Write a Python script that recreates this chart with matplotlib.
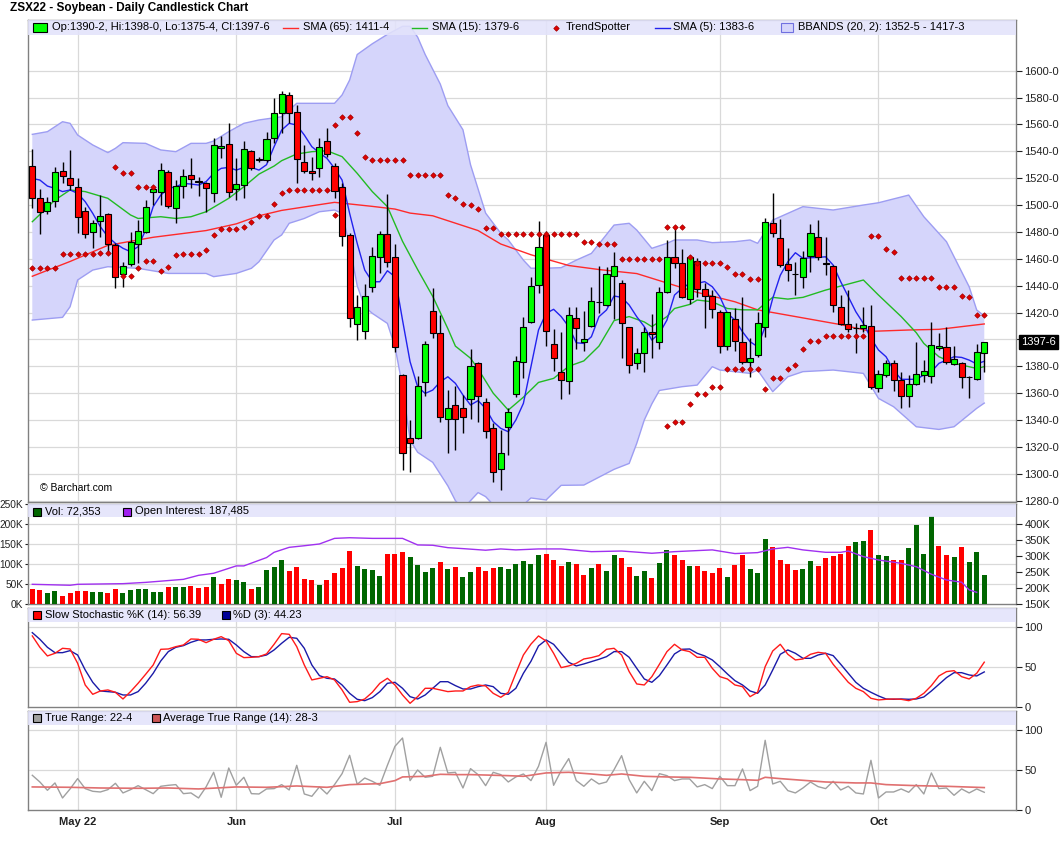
import numpy as np
import matplotlib
matplotlib.use('Agg')
from matplotlib import pyplot as plt
from matplotlib.patches import Rectangle
from matplotlib.lines import Line2D

plt.rcParams['font.family'] = ['Liberation Sans', 'DejaVu Sans']

# trading days from Apr 22 2022 (index 0) to Oct 21 2022 (index 126)
months = ['May 22', 'Jun', 'Jul', 'Aug', 'Sep', 'Oct']
month_idx = [6, 27, 48, 68, 91, 112]

# daily candles
opn = [1529.0, 1505.0, 1495.5, 1503.0, 1525.3, 1519.8, 1513.6, 1495.5, 1480.2, 1488.1,
       1493.0, 1470.2, 1448.4, 1455.8, 1470.7, 1479.7, 1509.4, 1509.4, 1524.3, 1497.5,
       1514.1, 1522.6, 1517.6, 1516.6, 1508.7, 1542.7, 1545.1, 1511.7, 1514.6, 1540.0,
       1534.5, 1533.2, 1549.6, 1568.2, 1581.9, 1569.0, 1531.8, 1525.3, 1527.3, 1547.4,
       1528.8, 1513.6, 1477.7, 1411.2, 1406.2, 1438.7, 1461.0, 1478.2, 1461.5, 1373.5,
       1326.4, 1326.4, 1368.5, 1421.1, 1404.5, 1340.7, 1351.2, 1348.7, 1355.4, 1382.2,
       1353.6, 1333.8, 1303.5, 1335.0, 1359.1, 1382.9, 1412.7, 1440.5, 1477.7, 1396.3,
       1375.5, 1369.0, 1415.7, 1398.3, 1410.0, 1428.1, 1425.6, 1447.4, 1441.7, 1409.0,
       1382.2, 1389.6, 1405.2, 1397.8, 1435.0, 1461.0, 1456.6, 1430.0, 1458.3, 1437.2,
       1432.3, 1420.1, 1395.1, 1414.9, 1398.3, 1383.4, 1388.4, 1409.5, 1486.4, 1475.2,
       1455.8, 1448.9, 1446.2, 1462.0, 1476.4, 1456.8, 1454.9, 1424.3, 1411.2, 1408.5,
       1408.7, 1410.2, 1364.1, 1373.5, 1382.2, 1369.8, 1357.9, 1366.8, 1373.5, 1372.7,
       1393.8, 1394.1, 1381.4, 1382.7, 1371.8, 1370.5, 1390.25]
high = [1541.7, 1511.9, 1506.0, 1528.0, 1532.2, 1541.0, 1519.8, 1498.8, 1488.8, 1507.4,
        1493.8, 1471.5, 1457.8, 1480.2, 1488.8, 1503.7, 1514.0, 1531.0, 1526.0, 1518.6,
        1526.5, 1534.7, 1521.1, 1517.4, 1549.6, 1551.6, 1560.8, 1534.7, 1547.6, 1541.0,
        1536.0, 1554.6, 1579.4, 1584.8, 1584.3, 1574.4, 1544.7, 1535.5, 1549.6, 1557.0,
        1531.0, 1516.1, 1478.9, 1433.0, 1441.0, 1469.0, 1480.7, 1508.0, 1471.0, 1374.2,
        1340.0, 1372.7, 1398.8, 1438.5, 1418.1, 1362.3, 1365.3, 1358.6, 1392.6, 1383.4,
        1356.1, 1337.5, 1332.6, 1348.7, 1387.6, 1416.9, 1446.7, 1488.3, 1480.9, 1407.5,
        1405.7, 1424.3, 1424.3, 1421.4, 1438.7, 1454.6, 1453.6, 1465.3, 1444.2, 1409.5,
        1393.3, 1409.5, 1418.9, 1438.7, 1474.0, 1483.9, 1467.3, 1462.8, 1460.3, 1441.7,
        1436.7, 1421.9, 1420.6, 1423.1, 1431.8, 1400.8, 1420.6, 1490.1, 1509.2, 1489.3,
        1468.2, 1457.8, 1465.8, 1485.9, 1488.8, 1475.9, 1455.3, 1433.0, 1436.7, 1411.9,
        1424.3, 1425.6, 1377.2, 1384.6, 1384.6, 1376.0, 1373.5, 1397.8, 1384.6, 1413.2,
        1404.5, 1409.5, 1395.1, 1383.4, 1372.5, 1396.5, 1398.0]
low = [1497.5, 1478.2, 1493.0, 1498.8, 1516.1, 1511.0, 1478.9, 1475.2, 1467.8, 1476.4,
       1465.3, 1438.0, 1439.2, 1455.0, 1457.0, 1479.0, 1500.0, 1500.0, 1497.5, 1486.9,
       1505.5, 1512.4, 1506.7, 1495.0, 1502.5, 1535.0, 1506.2, 1503.7, 1505.0, 1526.0,
       1532.0, 1532.0, 1546.0, 1553.3, 1560.8, 1516.1, 1523.6, 1518.6, 1520.6, 1536.0,
       1505.5, 1469.7, 1409.0, 1399.5, 1400.0, 1435.5, 1449.6, 1454.0, 1390.8, 1302.8,
       1301.5, 1325.6, 1357.9, 1400.8, 1338.8, 1315.2, 1317.7, 1330.0, 1340.5, 1338.8,
       1327.0, 1294.0, 1287.9, 1314.0, 1357.4, 1371.5, 1411.9, 1434.8, 1395.3, 1376.7,
       1355.4, 1359.1, 1392.8, 1391.3, 1409.5, 1419.4, 1424.8, 1414.9, 1385.9, 1375.2,
       1378.0, 1375.9, 1385.9, 1392.6, 1434.3, 1452.9, 1430.5, 1426.1, 1431.3, 1408.2,
       1415.7, 1389.6, 1392.1, 1391.6, 1381.7, 1372.2, 1387.0, 1402.0, 1475.9, 1453.6,
       1443.7, 1433.0, 1438.0, 1450.4, 1459.1, 1447.9, 1420.6, 1410.7, 1405.7, 1390.1,
       1405.7, 1362.8, 1360.6, 1371.8, 1361.8, 1349.2, 1349.9, 1366.0, 1368.5, 1367.3,
       1392.1, 1381.7, 1380.9, 1363.6, 1356.6, 1369.8, 1375.5]
close = [1505.0, 1494.5, 1502.5, 1524.8, 1521.6, 1514.9, 1490.8, 1478.2, 1486.4, 1491.8,
         1470.7, 1446.7, 1454.6, 1472.2, 1480.7, 1498.3, 1511.7, 1525.8, 1499.5, 1514.4,
         1521.8, 1519.1, 1517.1, 1512.4, 1544.9, 1544.2, 1509.4, 1515.4, 1541.9, 1527.3,
         1533.2, 1549.4, 1568.2, 1582.6, 1568.2, 1534.0, 1525.3, 1523.6, 1543.4, 1538.0,
         1510.4, 1476.9, 1415.7, 1423.8, 1432.5, 1462.3, 1478.2, 1457.8, 1394.6, 1315.2,
         1322.6, 1365.3, 1396.3, 1404.5, 1342.5, 1349.2, 1340.7, 1342.0, 1380.2, 1357.9,
         1331.8, 1301.0, 1315.2, 1345.7, 1383.9, 1409.5, 1440.0, 1468.5, 1406.2, 1385.9,
         1369.8, 1418.1, 1408.2, 1400.0, 1428.6, 1427.8, 1448.4, 1454.4, 1411.9, 1380.9,
         1389.6, 1405.2, 1403.7, 1435.0, 1461.0, 1456.6, 1431.3, 1461.0, 1437.5, 1432.3,
         1422.4, 1395.1, 1420.1, 1398.8, 1382.9, 1385.9, 1411.9, 1487.6, 1478.9, 1455.3,
         1451.6, 1448.6, 1460.8, 1478.9, 1461.1, 1456.3, 1425.6, 1411.4, 1407.7, 1408.7,
         1410.4, 1364.3, 1374.0, 1382.7, 1369.8, 1357.9, 1366.5, 1374.0, 1376.2, 1395.5,
         1395.0, 1383.4, 1385.1, 1371.7, 1372.0, 1390.8, 1397.75]

sma5 = [1519.8, 1518.6, 1514.1, 1512.4, 1510.0, 1511.2, 1508.7, 1502.5, 1493.8, 1483.9,
        1476.4, 1471.5, 1467.8, 1465.3, 1469.0, 1481.4, 1498.8, 1507.4, 1512.4, 1513.6,
        1516.1, 1515.6, 1514.9, 1517.4, 1523.6, 1527.3, 1528.0, 1526.0, 1528.0, 1528.0,
        1526.0, 1530.0, 1543.4, 1555.8, 1560.8, 1559.5, 1552.1, 1543.4, 1538.9, 1534.7,
        1527.3, 1518.6, 1493.8, 1471.5, 1451.6, 1442.9, 1442.9, 1451.1, 1446.7, 1414.4,
        1383.4, 1364.8, 1359.8, 1362.3, 1368.5, 1372.2, 1367.3, 1358.6, 1351.2, 1354.4,
        1348.7, 1338.8, 1333.8, 1331.3, 1340.0, 1352.4, 1379.7, 1407.0, 1419.4, 1422.4,
        1417.0, 1409.5, 1397.5, 1397.0, 1402.0, 1416.9, 1421.9, 1432.3, 1431.3, 1425.6,
        1416.9, 1409.5, 1399.5, 1404.5, 1414.4, 1433.0, 1438.0, 1441.7, 1441.7, 1443.0,
        1439.2, 1431.8, 1419.4, 1414.4, 1405.7, 1398.3, 1394.6, 1409.5, 1430.5, 1447.7,
        1457.8, 1464.5, 1460.3, 1460.8, 1461.0, 1461.5, 1455.3, 1442.9, 1431.8, 1420.6,
        1411.9, 1400.8, 1392.1, 1387.1, 1377.2, 1370.3, 1370.3, 1370.3, 1373.5, 1376.0,
        1382.2, 1384.6, 1387.1, 1386.6, 1384.6, 1381.7, 1383.75]

# smoother lines, read at sample days
sma65_day = [0, 5, 10, 16, 23, 27, 30, 33, 40, 45, 48, 50, 53, 59, 62, 66, 71, 75, 80, 84,
             88, 93, 96, 98, 102, 107, 111, 116, 120, 126]
sma65_val = [1447, 1458, 1470, 1476, 1481, 1486, 1492, 1496, 1502, 1499, 1497, 1494, 1492,
             1481, 1471, 1463, 1455, 1452, 1449, 1442, 1435, 1428, 1422, 1420, 1416, 1411,
             1406, 1407, 1407.5, 1411.5]
sma15_day = [0, 3, 5, 7, 10, 13, 14, 17, 19, 21, 23, 26, 28, 30, 32, 33, 35, 37, 39, 41, 43,
             45, 47, 49, 51, 53, 55, 56, 58, 59, 61, 63, 65, 67, 69, 71, 73, 75, 77, 79, 81,
             82, 84, 85, 87, 88, 90, 92, 94, 96, 97, 98, 100, 102, 105, 107, 110, 112, 115,
             117, 118, 120, 122, 125, 126]
sma15_val = [1487.6, 1503.7, 1511.2, 1510, 1505, 1492.6, 1490, 1491.3, 1490, 1491.3, 1495,
             1505, 1513.6, 1523, 1529, 1533, 1538, 1539.7, 1540.4, 1536, 1523.6, 1510, 1498.8,
             1473, 1452, 1432, 1408, 1395, 1386, 1378, 1360, 1347.4, 1357, 1368, 1371, 1380,
             1384, 1395, 1414, 1417, 1413, 1409.5, 1417, 1423, 1426, 1429.3, 1428, 1423, 1422,
             1422, 1426.8, 1431.3, 1430, 1431.3, 1436.7, 1439.7, 1444.2, 1433, 1417, 1405,
             1397, 1387.1, 1382.2, 1378.4, 1379.75]
bb_up_day = [0, 2, 4, 5, 6, 8, 10, 11, 12, 15, 17, 19, 21, 23, 24, 26, 28, 30, 33, 35, 40,
             41, 42, 43, 45, 47, 49, 50, 51, 52, 54, 55, 57, 58, 60, 62, 63, 65, 66, 68, 70,
             72, 74, 77, 79, 80, 82, 84, 85, 88, 90, 93, 95, 96, 98, 102, 106, 110, 112, 116,
             118, 121, 124, 125, 126]
bb_up_val = [1552.6, 1554.6, 1562, 1560.8, 1552.1, 1544.7, 1539, 1542.2, 1546.4, 1545.9,
             1541, 1539.7, 1545.9, 1545.9, 1547.6, 1554.6, 1560.8, 1563.3, 1565.7, 1575.7,
             1575.7, 1581.9, 1593, 1612, 1620, 1627, 1633, 1633, 1625, 1612, 1590, 1574, 1556,
             1530, 1494, 1479, 1474, 1459, 1453, 1453, 1453.4, 1459, 1464, 1485.1, 1486.4,
             1481.4, 1467.8, 1471.5, 1474, 1474, 1472, 1472.7, 1474, 1471.5, 1488.8, 1498.8,
             1496.3, 1500, 1501.7, 1507.4, 1491.3, 1472.7, 1439.2, 1421.9, 1417.4]
bb_lo_day = [0, 4, 5, 6, 8, 10, 14, 18, 23, 24, 27, 29, 30, 32, 33, 34, 36, 38, 40, 41, 42,
             43, 44, 45, 47, 48, 49, 50, 51, 53, 55, 56, 57, 58, 59, 60, 61, 62, 63, 64, 65,
             66, 68, 70, 73, 77, 79, 80, 81, 82, 83, 86, 88, 90, 91, 95, 96, 98, 100, 102,
             106, 110, 112, 114, 117, 120, 122, 125, 126]
bb_lo_val = [1414.4, 1416.4, 1424.3, 1444.2, 1451.6, 1454.1, 1452.9, 1449.1, 1449.1, 1446.7,
             1449.1, 1452.9, 1457.8, 1474, 1477.7, 1486.4, 1490, 1495, 1496.3, 1493.8, 1470,
             1440, 1424.3, 1419.4, 1411.9, 1394.6, 1365, 1325.1, 1316, 1308.5, 1291, 1280,
             1274, 1280, 1286, 1283, 1277, 1272, 1270, 1273, 1277, 1282, 1280.5, 1291.4,
             1291.6, 1303.3, 1307.7, 1322.6, 1340, 1352, 1362, 1364.8, 1366, 1379.7, 1377.2,
             1374.7, 1377.2, 1361.1, 1372.2, 1376, 1377.2, 1374.7, 1356.1, 1349.9, 1335, 1333,
             1335, 1348.7, 1352.6]

# TrendSpotter dots (day, price)
ts_day = list(range(0, 11)) + [11, 12, 13, 14, 15, 16] + list(range(12, 33)) + list(range(33, 40)) \
    + [40, 40] + list(range(41, 97)) + list(range(84, 111)) + list(range(111, 127))
ts_val = ([1452.9] * 4 + [1463.5] * 5 + [1464] * 2
          + [1528, 1523.6, 1523.6, 1513.6, 1513.6, 1513.6]
          + [1447.2, 1447.2, 1452.9, 1458.3, 1458.3, 1451.1, 1453.6, 1462.8, 1463.5, 1463.5,
             1463.5, 1466.5, 1477.4, 1482.1, 1482.1, 1482.1, 1483.4, 1487.1, 1491.6, 1491.6, 1500.5]
          + [1508.7] + [1511.2] * 6
          + [1492.6, 1559.5]
          + [1565.2, 1565.2, 1553.3, 1536] + [1533.2] * 5 + [1522.1] * 5
          + [1507.2, 1505, 1500.5, 1499.8, 1496.8, 1482.6, 1482.6] + [1478.4] * 11
          + [1472.2, 1472.2, 1471, 1471, 1471] + [1459.6] * 6 + [1483.4] * 3
          + [1461.5] + [1456.6] * 4 + [1454.1, 1448.4, 1448.4, 1444.7, 1444.7]
          + [1335.8, 1338.3, 1338.3, 1351.7, 1359.1, 1359.1, 1364.3, 1364.3] + [1377.7] * 5
          + [1362.8, 1371, 1371, 1377.7, 1381, 1392.6, 1398.5, 1398.5] + [1402.5] * 6
          + [1476.9, 1476.9, 1467, 1464.8] + [1445.6] * 5 + [1438.7] * 3
          + [1432.3, 1431.3, 1418.1, 1418.1])

# volume (thousands) and open interest
volume = [38.3, 35.8, 28.3, 33.3, 20.8, 28.3, 33.3, 33.3, 30.8, 30.8, 28.3, 38.3, 28.3, 35.8,
          38.3, 38.3, 30.8, 30.8, 43.3, 43.3, 43.3, 45.8, 40.8, 43.3, 68.3, 50.8, 63.3, 60.8,
          55.8, 38.3, 43.3, 85.8, 93.3, 110.8, 83.3, 93.3, 63.3, 60.8, 48.3, 60.8, 78.3, 90.8,
          133.3, 95.8, 88.3, 85.8, 70.8, 125.8, 125.8, 130.8, 118.3, 98.3, 80.8, 90.8, 105.8,
          88.3, 93.3, 68.3, 80.8, 93.3, 83.3, 90.8, 93.3, 88.3, 100.8, 108.3, 100.8, 123.3,
          125.8, 110.8, 95.8, 105.8, 100.8, 73.3, 90.8, 100.8, 83.3, 123.3, 115.8, 93.3, 70.8,
          83.3, 65.8, 103.3, 135.8, 123.3, 110.8, 95.8, 95.8, 83.3, 78.3, 90.8, 68.3, 98.3,
          123.3, 88.3, 78.3, 163.3, 142.5, 110.8, 100.8, 85.8, 88.3, 108.3, 95.8, 115.8, 120.8,
          125.8, 145.8, 155.8, 158.3, 186.7, 123.3, 120.8, 110.8, 110.8, 140.8, 198.3, 125.8,
          221.7, 145.8, 123.3, 118.3, 143.3, 105.8, 130.8, 72.4]
oi_day = [0, 5, 6, 12, 15, 20, 22, 24, 27, 28, 31, 32, 34, 36, 38, 40, 42, 45, 49, 51, 53, 55,
          57, 60, 62, 64, 67, 70, 74, 78, 82, 85, 90, 93, 96, 98, 100, 102, 105, 107, 108, 110,
          112, 115, 117, 119, 121, 123, 124, 125]
oi_val = [212.5, 209.5, 212.5, 214.5, 218.5, 228, 240.5, 247, 270, 270, 296, 312.5, 328, 333,
          338.5, 356, 358, 356, 356, 335.5, 334.5, 327, 324, 319, 323, 320, 323, 323, 314.5,
          316.5, 309.5, 314.5, 320, 308.5, 311.5, 323, 328, 320, 312.5, 312.5, 316.5, 299,
          288.5, 278, 267.5, 244, 226, 219, 195, 187.5]

# slow stochastic
stoch_k = [89.2, 75, 64.2, 67.5, 73.75, 72.9, 55, 27.9, 16.25, 20.4, 21.7, 18.75, 10.4, 19.6,
           30, 41.25, 52.9, 72.5, 72.9, 75.8, 77.9, 85.4, 85, 80.8, 85, 88.3, 83.3, 67.5, 62.1,
           62.5, 63.3, 66.7, 78.75, 92.1, 91.25, 75.8, 52.9, 34.2, 36.25, 38.3, 34.2, 21.7,
           6.25, 7.1, 10.4, 18.75, 30, 36.25, 27.9, 15.4, 5, 13.3, 23.75, 23.75, 21.7, 19.6,
           20.4, 20.4, 25.8, 27.9, 26.7, 17.5, 12.5, 18.75, 42.5, 65.4, 79, 89.2, 82.9, 67.5,
           49.6, 51.7, 55, 60.4, 62.1, 64.6, 72.5, 73.75, 65.4, 44.6, 29.2, 27.9, 38.3, 53.75,
           69.6, 78.75, 71.7, 69.6, 62.5, 62.5, 48.75, 38.3, 35.4, 27.9, 25.8, 13.3, 18.75,
           50.8, 70.4, 78.75, 66.25, 59.2, 60.4, 66.25, 68.75, 67.5, 53.75, 42.5, 31.25, 23.75,
           19.6, 11.25, 9.2, 10, 10.4, 10, 8.3, 11.25, 17.5, 27.1, 39.2, 44.6, 45.8, 38.3,
           35.4, 42.5, 56.4]
stoch_d = [93.3, 85, 75, 68.3, 68.3, 70.8, 65.4, 46.7, 31.25, 20.4, 19.6, 18.75, 15.4, 15.4,
           19.6, 30, 42.5, 57.9, 69.6, 75, 77.1, 81.25, 84.2, 84.2, 85, 85.4, 85, 77.9, 69.6,
           63.3, 63.3, 65.4, 71.7, 80, 87.5, 86.25, 73.75, 52.9, 39.6, 36.25, 35.4, 27.9, 17.5,
           10, 8.3, 12.1, 19.6, 30, 31.25, 23.75, 13.3, 10.4, 15.4, 23.75, 32, 32, 27.1, 22.9,
           22.9, 25.8, 27.9, 25.8, 17.5, 16.25, 23.75, 42.5, 57.5, 76.7, 84.2, 78.75, 67.5,
           56.25, 51.7, 54.2, 57.1, 60, 63.3, 69.6, 69.6, 62.5, 48.75, 35.4, 31.25, 39.6, 52.9,
           66.7, 72.5, 72.9, 67.5, 64.2, 59.2, 50.8, 41.7, 33.3, 27.9, 20.4, 17.5, 27.9, 46.7,
           66.25, 71.7, 67.5, 61.25, 61.25, 65.4, 67.5, 64.6, 53.75, 42.5, 31.25, 23.75, 18.75,
           14.2, 10.4, 10, 10.4, 10, 10.4, 12.9, 20.4, 28.75, 37.1, 43.3, 43.3, 40.4, 39.2, 44.2]

# true range and ATR
true_range = [43.75, 35.4, 25, 34.2, 15.4, 26.7, 39.6, 27.1, 23.75, 22.9, 25.8, 33.75, 21.7,
              25.8, 30.8, 25.8, 20.8, 30, 31.25, 32.1, 20.8, 21.7, 15.4, 29.2, 47.5, 16.25,
              52.9, 31.25, 41.25, 20.8, 20.4, 26.7, 27.1, 32.1, 25.4, 56.25, 20.4, 17.5, 29.2,
              20.4, 32.1, 45.8, 68.75, 32.5, 40.4, 36.25, 31.25, 56.25, 80, 90.4, 37.1, 50.4,
              41.25, 42.5, 78.75, 46.7, 47.5, 27.9, 52.1, 44.6, 30.8, 47.5, 44.6, 35.4, 41.7,
              45.4, 37.1, 55, 85, 31.25, 49.6, 64.6, 37.1, 30, 39.2, 32.9, 35.4, 50.8, 68.3,
              38.3, 21.7, 36.25, 24.6, 45.8, 43.3, 37.1, 39.2, 39.2, 29.2, 32.1, 27.1, 42.5,
              30.8, 30.8, 51.7, 24.6, 30, 87.5, 32.9, 36.25, 24.6, 21.7, 27.9, 35.4, 29.6, 27.1,
              36.25, 25.4, 30, 21.7, 20.4, 62.5, 15.4, 22.9, 22.9, 26.7, 22.5, 32.1, 20.4, 46.7,
              27.1, 27.9, 18.75, 26.7, 21.7, 26.7, 22.5]
atr_day = [0, 5, 9, 14, 18, 22, 27, 31, 35, 39, 42, 46, 48, 49, 52, 54, 56, 58, 63, 65, 68,
           71, 74, 76, 78, 81, 84, 87, 91, 94, 96, 97, 99, 102, 105, 109, 111, 113, 117, 121, 126]
atr_val = [29.2, 28.75, 27.9, 27.5, 27.9, 26.7, 29.2, 28.75, 30.4, 28.75, 32.1, 33.3, 37.1,
           41.7, 42.5, 45, 44.6, 44.6, 43.3, 42.5, 46.7, 47.5, 45.4, 43.75, 45.4, 42.5, 41.7,
           41.25, 39.2, 38.3, 37.5, 41.25, 39.6, 37.5, 35.4, 34.2, 34.2, 32.1, 30.8, 30, 28.4]

# ---------------------------------------------------------------
W_PX, H_PX = 1060, 851
fig = plt.figure(figsize=(W_PX / 100, H_PX / 100), dpi=100)
fig.patch.set_facecolor('white')

def fx(x):
    return x / W_PX

def fy(y):
    return 1 - y / H_PX

left, right = 28, 1016
width = (right - left) / W_PX
ax1 = fig.add_axes([fx(left), fy(502), width, 482 / H_PX])
ax2 = fig.add_axes([fx(left), fy(604.3), width, 100 / H_PX], sharex=ax1)
ax3 = fig.add_axes([fx(left), fy(707.3), width, 99.6 / H_PX], sharex=ax1)
ax4 = fig.add_axes([fx(left), fy(810.3), width, 99.6 / H_PX], sharex=ax1)

grid_c = '#d9d9d9'
strip_c = '#e3e3fb'
for ax, strip_h in [(ax1, 15 / 482), (ax2, 13 / 100), (ax3, 14 / 99.6), (ax4, 14 / 99.6)]:
    for s in ax.spines.values():
        s.set_color('#808080')
        s.set_linewidth(1.0)
    for m in month_idx:
        ax.axvline(m, color=grid_c, lw=0.9, zorder=0)
    ax.add_patch(Rectangle((0, 1 - strip_h), 1, strip_h, transform=ax.transAxes,
                           facecolor=strip_c, edgecolor='none', alpha=0.88, zorder=8))
    ax.tick_params(axis='both', labelsize=8, colors='#222222', length=4, width=0.8, pad=2)

x = np.arange(len(close))
opn_a, close_a = np.array(opn), np.array(close)

# --- price panel ---
ax1.set_xlim(-0.57, 130.2)
ax1.set_ylim(1279, 1637.7)
pticks = list(range(1280, 1601, 20))
for t in pticks:
    ax1.axhline(t, color=grid_c, lw=0.9, zorder=0)
ax1.yaxis.tick_right()
ax1.set_yticks(pticks)
ax1.set_yticklabels(['' if t == 1400 else f'{t}-0' for t in pticks])
ax1.tick_params(axis='x', labelbottom=False, length=0)

ax1.fill(np.r_[bb_up_day, bb_lo_day[::-1]], np.r_[bb_up_val, bb_lo_val[::-1]],
         facecolor='#d5d5fb', edgecolor='none', zorder=1)
ax1.plot(bb_up_day, bb_up_val, color='#9d9df2', lw=1.0, zorder=1.5)
ax1.plot(bb_lo_day, bb_lo_val, color='#9d9df2', lw=1.0, zorder=1.5)
ax1.plot(sma65_day, sma65_val, color='#ff2a2a', lw=1.0, zorder=2)
ax1.plot(sma15_day, sma15_val, color='#22bb22', lw=1.0, zorder=2)
ax1.plot(x, sma5, color='#2222ee', lw=1.0, zorder=2)

body_col = np.where(close_a >= opn_a, '#00ff00', '#ff0000')
ax1.vlines(x, low, high, color='black', lw=1.0, zorder=3)
ax1.bar(x, np.maximum(np.abs(close_a - opn_a), 0.3), bottom=np.minimum(opn_a, close_a),
        width=0.8, color=body_col, edgecolor='black', linewidth=0.8, zorder=4)
ax1.plot(ts_day, ts_val, linestyle='none', marker='D', ms=2.8, mfc='#e00000', mec='#a00000',
         mew=0.5, zorder=5)
ax1.text((40 - left) / (right - left), 14 / 482, '\u00a9 Barchart.com',
         transform=ax1.transAxes, fontsize=7.5, va='center', zorder=9)
ax1.annotate('1397-6', xy=(1, close[-1]), xycoords=('axes fraction', 'data'), xytext=(3.5, 0),
             textcoords='offset points', va='center', ha='left', color='white', fontsize=8,
             bbox=dict(boxstyle='square,pad=0.18', fc='black', ec='black'), zorder=10,
             annotation_clip=False)

# --- volume panel ---
vol_col = ['#ff0000'] + ['#006600' if close[i] > close[i - 1] else '#ff0000' for i in range(1, len(close))]
ax2.set_ylim(0, 250)
vticks = [0, 50, 100, 150, 200, 250]
for t in vticks[1:-1]:
    ax2.axhline(t, color=grid_c, lw=0.9, zorder=0)
ax2.set_yticks(vticks)
ax2.set_yticklabels([f'{t}K' for t in vticks])
ax2.tick_params(axis='y', labelsize=7.3, length=2.5, pad=1)
ax2.bar(x, volume, width=0.66, color=vol_col, zorder=3)
ax2.tick_params(axis='x', labelbottom=False, length=0)
ax2b = ax2.twinx()
ax2b.set_ylim(150, 462.5)
oticks = [150, 200, 250, 300, 350, 400]
ax2b.set_yticks(oticks)
ax2b.set_yticklabels([f'{t}K' for t in oticks])
ax2b.tick_params(axis='y', labelsize=8, colors='#222222', length=4, width=0.8, pad=2)
for s in ax2b.spines.values():
    s.set_visible(False)
ax2b.plot(oi_day, oi_val, color='#a030f0', lw=1.0, zorder=4)

# --- stochastic panel ---
ax3.set_ylim(0, 124.5)
for t in [50, 100]:
    ax3.axhline(t, color=grid_c, lw=0.9, zorder=0)
ax3.yaxis.tick_right()
ax3.set_yticks([0, 50, 100])
ax3.plot(x, stoch_k, color='#ff1a1a', lw=1.0, zorder=3)
ax3.plot(x, stoch_d, color='#1a1aa8', lw=1.0, zorder=2)
ax3.tick_params(axis='x', labelbottom=False, length=0)

# --- true range panel ---
ax4.set_ylim(0, 124.5)
for t in [50, 100]:
    ax4.axhline(t, color=grid_c, lw=0.9, zorder=0)
ax4.yaxis.tick_right()
ax4.set_yticks([0, 50, 100])
ax4.plot(x, true_range, color='#a0a0a0', lw=1.0, zorder=2)
ax4.plot(atr_day, atr_val, color='#e07070', lw=1.2, zorder=3)
ax4.set_xticks(month_idx)
ax4.set_xticklabels(months, fontweight='bold', fontsize=8)
ax4.tick_params(axis='x', length=0, pad=5)

# --- title and legends ---
fig.text(fx(10), fy(8), 'ZSX22 - Soybean - Daily Candlestick Chart', fontsize=8.5,
         fontweight='bold', va='center', ha='left')

def box(xp, yp, w, h, fc, ec='black'):
    fig.add_artist(Rectangle((fx(xp), fy(yp + h / 2)), w / W_PX, h / H_PX,
                             transform=fig.transFigure, facecolor=fc, edgecolor=ec, lw=0.8,
                             zorder=20))

def seg(xp, yp, col):
    fig.add_artist(Line2D([fx(xp), fx(xp + 15)], [fy(yp), fy(yp)], color=col, lw=1.0,
                          transform=fig.transFigure, zorder=20))

def label(xp, yp, s):
    fig.text(fx(xp), fy(yp), s, fontsize=8, va='center', ha='left', zorder=21)

y_leg = 27.5
box(33, y_leg, 14, 9, '#00ff00')
label(52, y_leg, 'Op:1390-2, Hi:1398-0, Lo:1375-4, Cl:1397-6')
seg(283, y_leg, '#ff2a2a')
label(303, y_leg, 'SMA (65): 1411-4')
seg(412, y_leg, '#22bb22')
label(432, y_leg, 'SMA (15): 1379-6')
fig.add_artist(Line2D([fx(556)], [fy(y_leg)], marker='D', ms=2.8, mfc='#e00000', mec='#a00000',
                      mew=0.5, transform=fig.transFigure, zorder=20))
label(566, y_leg, 'TrendSpotter')
seg(655, y_leg, '#2222ee')
label(673, y_leg, 'SMA (5): 1383-6')
box(781, y_leg, 12, 9, '#d5d5fb', ec='#7070e0')
label(798, y_leg, 'BBANDS (20, 2): 1352-5 - 1417-3')

y_leg = 511.5
box(33, y_leg, 8, 8, '#006600')
label(45, y_leg, 'Vol: 72,353')
box(123, y_leg, 8, 8, '#a020f0')
label(135, y_leg, 'Open Interest: 187,485')

y_leg = 615
box(33, y_leg, 8, 8, '#ff0000')
label(45, y_leg, 'Slow Stochastic %K (14): 56.39')
box(222, y_leg, 8, 8, '#000099')
label(233, y_leg, '%D (3): 44.23')

y_leg = 718
box(33, y_leg, 8, 8, '#a0a0a0')
label(45, y_leg, 'True Range: 22-4')
box(152, y_leg, 8, 8, '#cc5555')
label(163, y_leg, 'Average True Range (14): 28-3')

fig.savefig('out.png', dpi=100, facecolor='white')
